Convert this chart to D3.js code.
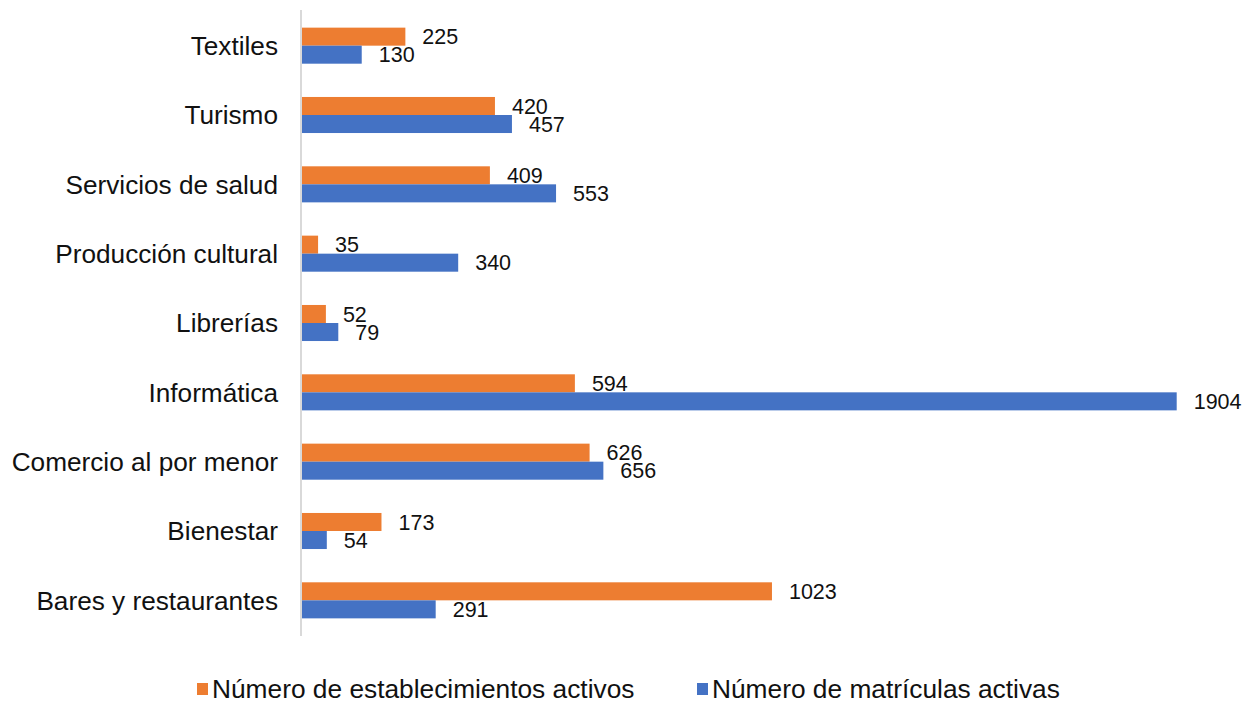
<!DOCTYPE html>
<html>
<head>
<meta charset="utf-8">
<script src="https://cdn.jsdelivr.net/npm/d3@7"></script>
<style>
  body { margin: 0; background: #fff; }
  text { font-family: "Liberation Sans", Arial, sans-serif; fill: #111; }
</style>
</head>
<body>
<div id="chart"></div>
<script>
// data (top to bottom)
var categories = ["Textiles", "Turismo", "Servicios de salud", "Producción cultural",
  "Librerías", "Informática", "Comercio al por menor", "Bienestar", "Bares y restaurantes"];
var establecimientos = [225, 420, 409, 35, 52, 594, 626, 173, 1023];
var matriculas = [130, 457, 553, 340, 79, 1904, 656, 54, 291];
var seriesNames = ["Número de establecimientos activos", "Número de matrículas activas"];
var seriesColors = ["#ED7D31", "#4472C4"];

var width = 1259, height = 704;

var svg = d3.select("#chart").append("svg")
    .attr("width", width)
    .attr("height", height);

// scales
var x = d3.scaleLinear()
    .domain([0, 2000])
    .range([302, 302 + 2000 * 0.4594]);

var y = d3.scaleBand()
    .domain(categories)
    .range([11, 635])
    .paddingInner(0.48)
    .paddingOuter(0.24);

var ySub = d3.scaleBand()
    .domain([0, 1])
    .range([0, y.bandwidth()]);

var rows = categories.map(function(c, i) {
  return { cat: c, vals: [establecimientos[i], matriculas[i]] };
});

// bars
var groups = svg.selectAll(".grp")
    .data(rows)
  .enter().append("g")
    .attr("class", "grp")
    .attr("transform", function(d) { return "translate(0," + y(d.cat) + ")"; });

groups.selectAll("rect")
    .data(function(d) { return d.vals; })
  .enter().append("rect")
    .attr("x", x(0))
    .attr("y", function(d, i) { return ySub(i); })
    .attr("width", function(d) { return x(d) - x(0); })
    .attr("height", ySub.bandwidth())
    .attr("fill", function(d, i) { return seriesColors[i]; });

// value labels
groups.selectAll(".val")
    .data(function(d) { return d.vals; })
  .enter().append("text")
    .attr("class", "val")
    .attr("x", function(d) { return x(d) + 17; })
    .attr("y", function(d, i) { return ySub(i) + ySub.bandwidth() / 2; })
    .attr("dy", "0.36em")
    .style("font-size", "21.5px")
    .text(function(d) { return d; });

// category axis
svg.append("line")
    .attr("x1", 301).attr("x2", 301)
    .attr("y1", 10).attr("y2", 636)
    .attr("stroke", "#d9d9d9")
    .attr("stroke-width", 2);

svg.selectAll(".cat")
    .data(categories)
  .enter().append("text")
    .attr("class", "cat")
    .attr("x", 278)
    .attr("y", function(d) { return y(d) + y.bandwidth() / 2; })
    .attr("dy", "0.36em")
    .attr("text-anchor", "end")
    .style("font-size", "26.2px")
    .text(function(d) { return d; });

// legend
var legendX = [197, 697];
var legend = svg.selectAll(".leg")
    .data(seriesNames)
  .enter().append("g")
    .attr("class", "leg")
    .attr("transform", function(d, i) { return "translate(" + legendX[i] + ",689)"; });

legend.append("rect")
    .attr("x", 0).attr("y", -6)
    .attr("width", 11).attr("height", 12)
    .attr("fill", function(d, i) { return seriesColors[i]; });

legend.append("text")
    .attr("x", 15)
    .attr("dy", "0.36em")
    .style("font-size", "26.3px")
    .text(function(d) { return d; });
</script>
</body>
</html>
